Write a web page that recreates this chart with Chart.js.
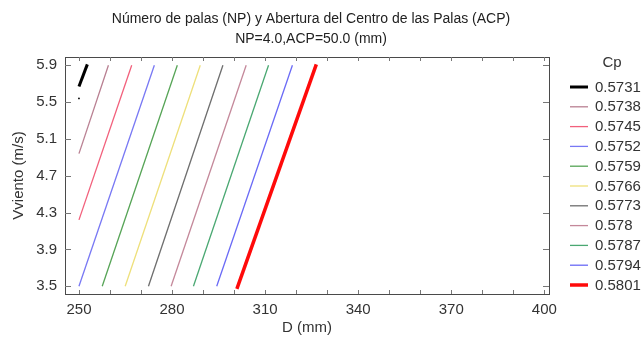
<!DOCTYPE html>
<html>
<head>
<meta charset="utf-8">
<script src="https://cdn.jsdelivr.net/npm/chart.js@4.4.1/dist/chart.umd.min.js"></script>
<style>
html,body{margin:0;padding:0;background:#fff;}
#wrap{width:644px;height:337px;position:relative;}
</style>
</head>
<body>
<div id="wrap"><canvas id="c" width="644" height="337"></canvas></div>
<script>
// ---- Data ----
const chartTitle = ["Número de palas (NP) y Abertura del Centro de las Palas (ACP)", "NP=4.0,ACP=50.0 (mm)"];
const xTitle = "D (mm)";
const yTitle = "Vviento (m/s)";
const legendTitle = "Cp";
const cpLabels = ["0.5731","0.5738","0.5745","0.5752","0.5759","0.5766","0.5773","0.578","0.5787","0.5794","0.5801"];
// contour line endpoints: start (low end) and end (top end)
const startD = [250.0, 250.0, 250.0, 250.0, 257.5, 264.9, 272.4, 279.7, 286.9, 294.4, 300.9];
const startV = [5.67,  4.94,  4.22,  3.50,  3.50,  3.50,  3.50,  3.50,  3.50,  3.50,  3.47];
const endD   = [252.7, 259.5, 267.0, 274.3, 281.7, 289.1, 296.4, 303.9, 311.1, 318.8, 326.5];
const endV   = [5.91,  5.90,  5.90,  5.90,  5.90,  5.90,  5.90,  5.90,  5.90,  5.90,  5.91];
// isolated dot belonging to the 0.5731 contour
const dotD = [250.0];
const dotV = [5.54];
const xMajorTicks = [250, 280, 310, 340, 370, 400];
const xMinorTicks = [250, 260, 270, 280, 290, 300, 310, 320, 330, 340, 350, 360, 370, 380, 390, 400];
const yTicks = [3.5, 3.9, 4.3, 4.7, 5.1, 5.5, 5.9];

// ---- Styles ----
const colors = ["#000000","#b98092","#f2607c","#7878f4","#56a456","#eee07a","#6e6e6e","#c4889a","#4aa872","#6a6af6","#ff0a0a"];
const widths = [3, 1.3, 1.3, 1.3, 1.3, 1.3, 1.3, 1.3, 1.3, 1.3, 3.5];
const FONT = "'Liberation Sans', Arial, sans-serif";

const datasets = cpLabels.map((lab, i) => {
  let data = [{x: startD[i], y: startV[i]}, {x: endD[i], y: endV[i]}];
  if (i === 0) {
    data = [{x: dotD[0], y: dotV[0]}, {x: dotD[0], y: null}].concat(data);
  }
  return {
    label: lab,
    data: data,
    borderColor: colors[i],
    backgroundColor: colors[i],
    borderWidth: widths[i],
    pointRadius: (ctx) => (i === 0 && ctx.dataIndex === 0) ? 0.9 : 0,
    pointBorderWidth: 0,
    pointHoverRadius: 0,
    spanGaps: false,
    tension: 0,
    fill: false
  };
});

const framePlugin = {
  id: 'frame',
  afterDraw(chart) {
    const {ctx, chartArea: a, scales: {x, y}} = chart;
    ctx.save();
    // box
    ctx.strokeStyle = '#4a4a4a';
    ctx.lineWidth = 1;
    ctx.strokeRect(Math.round(a.left) + 0.5, Math.round(a.top) + 0.5, Math.round(a.right - a.left), Math.round(a.bottom - a.top));
    // x ticks (inward, top & bottom)
    ctx.strokeStyle = '#777';
    xMinorTicks.forEach(v => {
      const px = Math.round(x.getPixelForValue(v)) + 0.5;
      ctx.beginPath();
      ctx.moveTo(px, a.bottom); ctx.lineTo(px, a.bottom - 4);
      ctx.moveTo(px, a.top); ctx.lineTo(px, a.top + 4);
      ctx.stroke();
    });
    // y ticks (inward, left & right)
    yTicks.forEach(v => {
      const py = Math.round(y.getPixelForValue(v)) + 0.5;
      ctx.beginPath();
      ctx.moveTo(a.left, py); ctx.lineTo(a.left + 6, py);
      ctx.moveTo(a.right, py); ctx.lineTo(a.right - 6, py);
      ctx.stroke();
    });
    // title
    ctx.fillStyle = '#222';
    ctx.font = "14px " + FONT;
    ctx.textAlign = 'center';
    ctx.textBaseline = 'middle';
    ctx.fillText(chartTitle[0], 311, 19);
    ctx.fillText(chartTitle[1], 311, 39);
    // legend
    ctx.font = "15px " + FONT;
    ctx.fillStyle = '#333';
    ctx.fillText(legendTitle, 612, 63);
    ctx.textAlign = 'left';
    chart.data.datasets.forEach((ds, i) => {
      const ry = 87 + i * 19.8;
      ctx.strokeStyle = ds.borderColor;
      ctx.lineWidth = ds.borderWidth;
      ctx.beginPath();
      ctx.moveTo(570, ry); ctx.lineTo(588, ry);
      ctx.stroke();
      ctx.fillStyle = '#333';
      ctx.fillText(ds.label, 595, ry + 0.5);
    });
    ctx.restore();
  }
};

new Chart(document.getElementById('c'), {
  type: 'line',
  data: { datasets: datasets },
  options: {
    responsive: false,
    animation: false,
    events: [],
    layout: { padding: { top: 57, left: 0, right: 95, bottom: 0 } },
    plugins: {
      legend: { display: false },
      title: { display: false },
      tooltip: { enabled: false }
    },
    scales: {
      x: {
        type: 'linear',
        min: 245.5,
        max: 401.5,
        afterBuildTicks: (s) => { s.ticks = xMajorTicks.map(v => ({value: v})); },
        afterFit: (s) => { s.height = 43; },
        grid: { display: false, drawTicks: false },
        border: { display: false },
        ticks: { padding: 7, color: '#333', font: { family: FONT, size: 15 }, maxRotation: 0, callback: (v) => String(v) },
        title: { display: true, text: xTitle, color: '#333', font: { family: FONT, size: 15 }, padding: { top: 0, bottom: 0 } }
      },
      y: {
        type: 'linear',
        min: 3.415,
        max: 5.99,
        afterBuildTicks: (s) => { s.ticks = yTicks.map(v => ({value: v})); },
        afterFit: (s) => { s.width = 65; },
        grid: { display: false, drawTicks: false },
        border: { display: false },
        ticks: { padding: 8, color: '#333', font: { family: FONT, size: 15 }, callback: (v) => v.toFixed(1) },
        title: { display: true, text: yTitle, color: '#333', font: { family: FONT, size: 15 }, padding: { top: 10, bottom: 0 } }
      }
    }
  },
  plugins: [framePlugin]
});
</script>
</body>
</html>
